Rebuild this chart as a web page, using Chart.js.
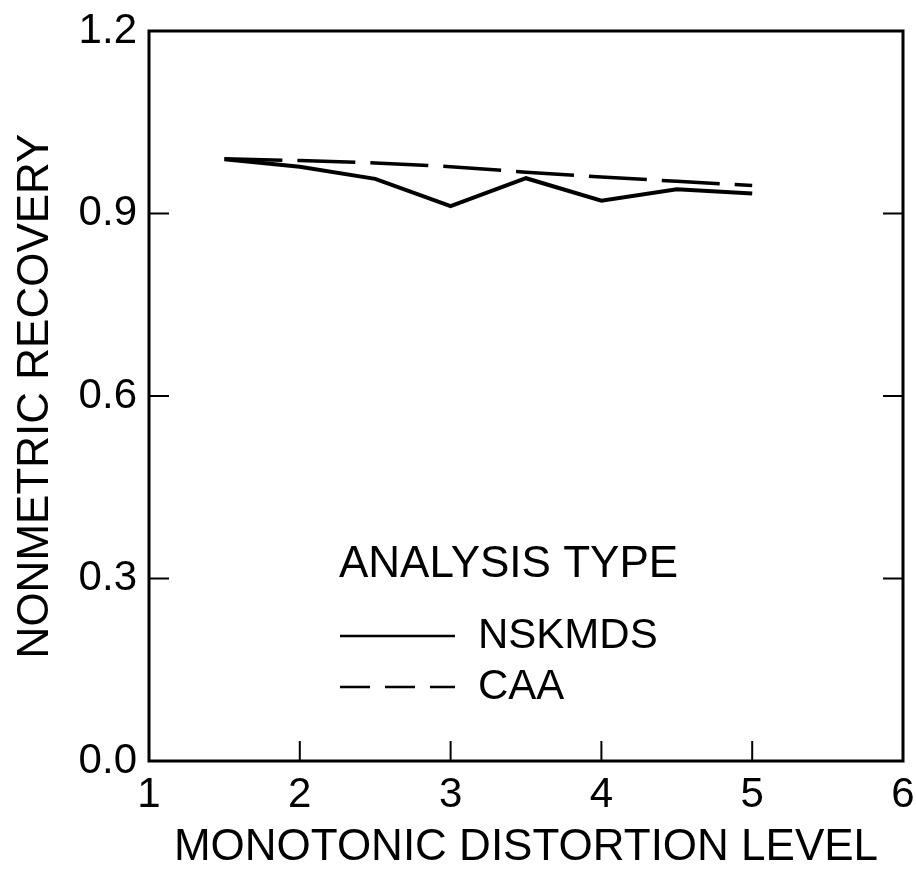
<!DOCTYPE html>
<html>
<head>
<meta charset="utf-8">
<script src="https://cdn.jsdelivr.net/npm/chart.js@4.4.1/dist/chart.umd.min.js"></script>
<style>
  html, body { margin: 0; padding: 0; background: #fff; }
  canvas { display: block; }
</style>
</head>
<body>
<canvas id="chart" width="916" height="874"></canvas>
<script>
// distortion levels on the x axis
const levels = [1.5, 2, 2.5, 3, 3.5, 4, 4.5, 5];
// recovery values
const nskmds = [0.989, 0.977, 0.957, 0.912, 0.958, 0.921, 0.940, 0.933];
const caa = [0.990, 0.987, 0.983, 0.977, 0.968, 0.960, 0.953, 0.946];
const seriesNames = ['NSKMDS', 'CAA'];
const legendTitle = 'ANALYSIS TYPE';
const xTitle = 'MONOTONIC DISTORTION LEVEL';
const yTitle = 'NONMETRIC RECOVERY';

const FONT = '"Liberation Sans", Arial, Helvetica, sans-serif';

function toPoints(xs, ys) {
    return xs.map((x, i) => ({ x: x, y: ys[i] }));
}

// frame around the plot plus inward tick marks on all four sides
const framePlugin = {
    id: 'frame',
    afterDraw(chart) {
        const ctx = chart.ctx;
        const a = chart.chartArea;
        const xs = chart.scales.x, ys = chart.scales.y;
        ctx.save();
        ctx.strokeStyle = '#000';
        ctx.lineWidth = 3;
        ctx.strokeRect(a.left, a.top, a.right - a.left, a.bottom - a.top);
        ctx.lineWidth = 2;
        const len = 20;
        xs.ticks.forEach(t => {
            if (t.value <= xs.min || t.value >= xs.max) return;
            const px = xs.getPixelForValue(t.value);
            ctx.beginPath();
            ctx.moveTo(px, a.bottom);
            ctx.lineTo(px, a.bottom - len);
            ctx.stroke();
        });
        ys.ticks.forEach(t => {
            if (t.value <= ys.min + 1e-9 || t.value >= ys.max - 1e-9) return;
            const py = ys.getPixelForValue(t.value);
            ctx.beginPath();
            ctx.moveTo(a.left, py);
            ctx.lineTo(a.left + len, py);
            ctx.moveTo(a.right, py);
            ctx.lineTo(a.right - len, py);
            ctx.stroke();
        });
        ctx.restore();
    }
};

// legend block drawn inside the plot, styled from the datasets
const legendPlugin = {
    id: 'innerLegend',
    afterDraw(chart) {
        const ctx = chart.ctx;
        ctx.save();
        ctx.fillStyle = '#000';
        ctx.textBaseline = 'middle';
        ctx.textAlign = 'left';
        ctx.font = '44px ' + FONT;
        ctx.fillText(legendTitle, 339, 565);
        const rows = [636, 687];
        chart.data.datasets.forEach((ds, i) => {
            const y = rows[i];
            ctx.strokeStyle = ds.borderColor;
            ctx.lineWidth = 2.5;
            ctx.setLineDash(ds.borderDash && ds.borderDash.length ? [30, 15] : []);
            ctx.beginPath();
            ctx.moveTo(340, y);
            ctx.lineTo(455, y);
            ctx.stroke();
            ctx.setLineDash([]);
            ctx.font = '42px ' + FONT;
            ctx.fillText(ds.label, 478, y);
        });
        ctx.restore();
    }
};

new Chart(document.getElementById('chart'), {
    type: 'line',
    data: {
        datasets: [
            {
                label: seriesNames[0],
                data: toPoints(levels, nskmds),
                borderColor: '#000',
                borderWidth: 4,
                pointRadius: 0,
                tension: 0,
                fill: false
            },
            {
                label: seriesNames[1],
                data: toPoints(levels, caa),
                borderColor: '#000',
                borderWidth: 3.5,
                borderDash: [58, 15],
                pointRadius: 0,
                tension: 0,
                fill: false
            }
        ]
    },
    options: {
        responsive: false,
        animation: false,
        devicePixelRatio: 1,
        layout: { padding: { top: 31, right: 13, left: 0, bottom: 0 } },
        plugins: {
            legend: { display: false },
            tooltip: { enabled: false }
        },
        scales: {
            x: {
                type: 'linear',
                min: 1,
                max: 6,
                grid: { display: false, drawTicks: false },
                border: { display: false },
                ticks: {
                    stepSize: 1,
                    color: '#000',
                    padding: 9,
                    font: { family: FONT, size: 42 }
                },
                title: {
                    display: true,
                    text: xTitle,
                    color: '#000',
                    padding: { top: 0, bottom: 0 },
                    font: { family: FONT, size: 44 }
                },
                afterFit(scale) {
                    scale.height = 113;
                    // edge labels may spill over the canvas margin
                    scale.paddingLeft = 0;
                    scale.paddingRight = 0;
                }
            },
            y: {
                type: 'linear',
                min: 0,
                max: 1.2,
                grid: { display: false, drawTicks: false },
                border: { display: false },
                ticks: {
                    stepSize: 0.3,
                    color: '#000',
                    padding: 12,
                    font: { family: FONT, size: 42 },
                    callback: v => v.toFixed(1)
                },
                title: {
                    display: true,
                    text: yTitle,
                    color: '#000',
                    padding: { top: 9, bottom: 0 },
                    font: { family: FONT, size: 44 }
                },
                afterFit(scale) {
                    scale.width = 149;
                    scale.paddingTop = 0;
                    scale.paddingBottom = 0;
                }
            }
        }
    },
    plugins: [framePlugin, legendPlugin]
});
</script>
</body>
</html>
